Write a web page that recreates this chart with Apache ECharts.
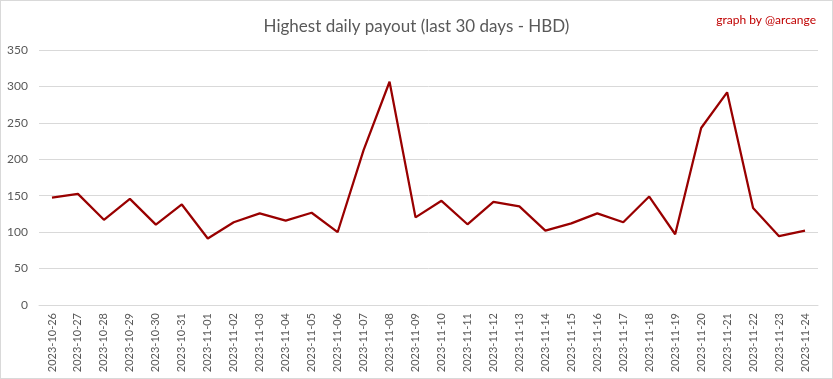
<!DOCTYPE html>
<html><head><meta charset="utf-8">
<script src="https://cdn.jsdelivr.net/npm/echarts@6/dist/echarts.min.js"></script>
<style>html,body{margin:0;padding:0;background:#fff}#c{width:833px;height:379px;box-sizing:border-box;border:1px solid #d9d9d9}</style>
</head><body><div id="c"></div>
<script>
const dates = ["2023-10-26","2023-10-27","2023-10-28","2023-10-29","2023-10-30","2023-10-31","2023-11-01","2023-11-02","2023-11-03","2023-11-04","2023-11-05","2023-11-06","2023-11-07","2023-11-08","2023-11-09","2023-11-10","2023-11-11","2023-11-12","2023-11-13","2023-11-14","2023-11-15","2023-11-16","2023-11-17","2023-11-18","2023-11-19","2023-11-20","2023-11-21","2023-11-22","2023-11-23","2023-11-24"];
const payouts = [147.5,152.5,117,145.7,110.3,138,91.2,113.5,125.7,115.8,126.6,99.9,212.5,306.4,120.3,143,110.8,141.6,135.3,102.1,112.1,125.7,113.5,148.9,97.1,242.9,291.9,133,94.4,102.1];
const yTicks = {min:0, max:350, interval:50};
const titleText = "Highest daily payout (last 30 days - HBD)";
const creditText = "graph by @arcange";

const chart = echarts.init(document.getElementById('c'), null, {renderer:'canvas'});
const font = "Lato, 'Open Sans', sans-serif";
chart.setOption({
  animation:false,
  title:[
    {text:titleText, left:'center', top:12, textStyle:{fontFamily:font, fontWeight:'normal', fontSize:17, color:'#595959'}},
    {text:creditText, right:11, top:8, textStyle:{fontFamily:font, fontWeight:'normal', fontSize:12, color:'#c00000'}}
  ],
  grid:{left:38, right:14, top:49, bottom:73},
  xAxis:{type:'category', data:dates, boundaryGap:true,
    axisLine:{show:true, lineStyle:{color:'#d9d9d9'}}, axisTick:{show:false},
    axisLabel:{rotate:90, interval:0, color:'#595959', fontFamily:font, fontSize:11, margin:8}},
  yAxis:{type:'value', min:yTicks.min, max:yTicks.max, interval:yTicks.interval,
    axisLine:{show:false}, axisTick:{show:false},
    splitLine:{lineStyle:{color:'#d9d9d9', width:1}},
    axisLabel:{color:'#595959', fontFamily:font, fontSize:12, margin:11}},
  series:[{type:'line', data:payouts, symbol:'none', lineStyle:{color:'#990000', width:2.25}, itemStyle:{color:'#990000'}}]
});
</script></body></html>
